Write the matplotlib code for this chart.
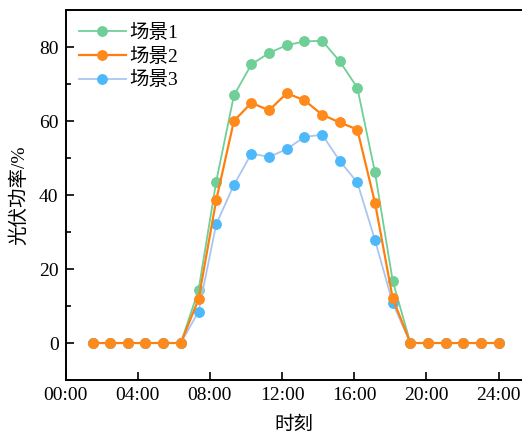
import matplotlib
matplotlib.use("Agg")
import matplotlib.pyplot as plt
from matplotlib.ticker import MultipleLocator

plt.rcParams["font.family"] = ["Liberation Serif", "Noto Sans CJK SC"]
plt.rcParams["axes.unicode_minus"] = False

# hours of each sample (24 points)
hours = [1.50, 2.48, 3.46, 4.43, 5.41, 6.39, 7.37, 8.35, 9.33, 10.30, 11.28, 12.26,
         13.24, 14.22, 15.20, 16.17, 17.15, 18.13, 19.11, 20.09, 21.07, 22.04, 23.02, 24.00]

scene1 = [0, 0, 0, 0, 0, 0, 14.3, 43.6, 66.9, 75.3, 78.4, 80.5,
          81.5, 81.7, 76.1, 69.0, 46.1, 16.8, 0, 0, 0, 0, 0, 0]
scene2 = [0, 0, 0, 0, 0, 0, 11.8, 38.6, 60.0, 64.9, 62.9, 67.5,
          65.6, 61.7, 59.6, 57.7, 37.9, 12.1, 0, 0, 0, 0, 0, 0]
scene3 = [0, 0, 0, 0, 0, 0, 8.5, 32.1, 42.7, 51.2, 50.3, 52.4,
          55.7, 56.3, 49.2, 43.4, 27.8, 10.8, 0, 0, 0, 0, 0, 0]

labels = ["场景1", "场景2", "场景3"]
xticks = [0, 4, 8, 12, 16, 20, 24]
xticklabels = ["00:00", "04:00", "08:00", "12:00", "16:00", "20:00", "24:00"]

fig = plt.figure(figsize=(5.22, 4.37), dpi=100)
ax = fig.add_axes([0.1255, 0.1304, 0.8764, 0.8467])

ax.plot(hours, scene1, color="#6FCF97", lw=1.3, marker="o", ms=6.8,
        mfc="#6FCF97", mec="#6FCF97", label=labels[0], zorder=3)
ax.plot(hours, scene2, color="#FF7F0E", lw=1.6, marker="o", ms=6.8,
        mfc="#FF8A1C", mec="#FF8A1C", label=labels[1], zorder=5)
ax.plot(hours, scene3, color="#A9C6F2", lw=1.3, marker="o", ms=6.8,
        mfc="#4DB9FA", mec="#4DB9FA", label=labels[2], zorder=4)

ax.set_xlim(0, 25.35)
ax.set_ylim(-10, 90)
ax.set_xticks(xticks)
ax.set_xticklabels(xticklabels)
ax.yaxis.set_major_locator(MultipleLocator(20))
ax.yaxis.set_minor_locator(MultipleLocator(10))
ax.tick_params(axis="both", which="major", direction="in", length=6, width=1.2,
               labelsize=14, pad=5)
ax.tick_params(axis="y", which="minor", direction="in", length=3.5, width=1.2)
for sp in ax.spines.values():
    sp.set_linewidth(1.4)

ax.set_xlabel("时刻", fontsize=14)
ax.set_ylabel("光伏功率/%", fontsize=14)
ax.xaxis.set_label_coords(0.5, -0.1)
ax.yaxis.set_label_coords(-0.082, 0.5)

ax.legend(loc="upper left", frameon=False, fontsize=14, handlelength=2.4,
          labelspacing=0.3, handletextpad=0.2, borderaxespad=0.3,
          bbox_to_anchor=(0.0, 1.0))

fig.savefig("out.png", dpi=100)
plt.close(fig)
